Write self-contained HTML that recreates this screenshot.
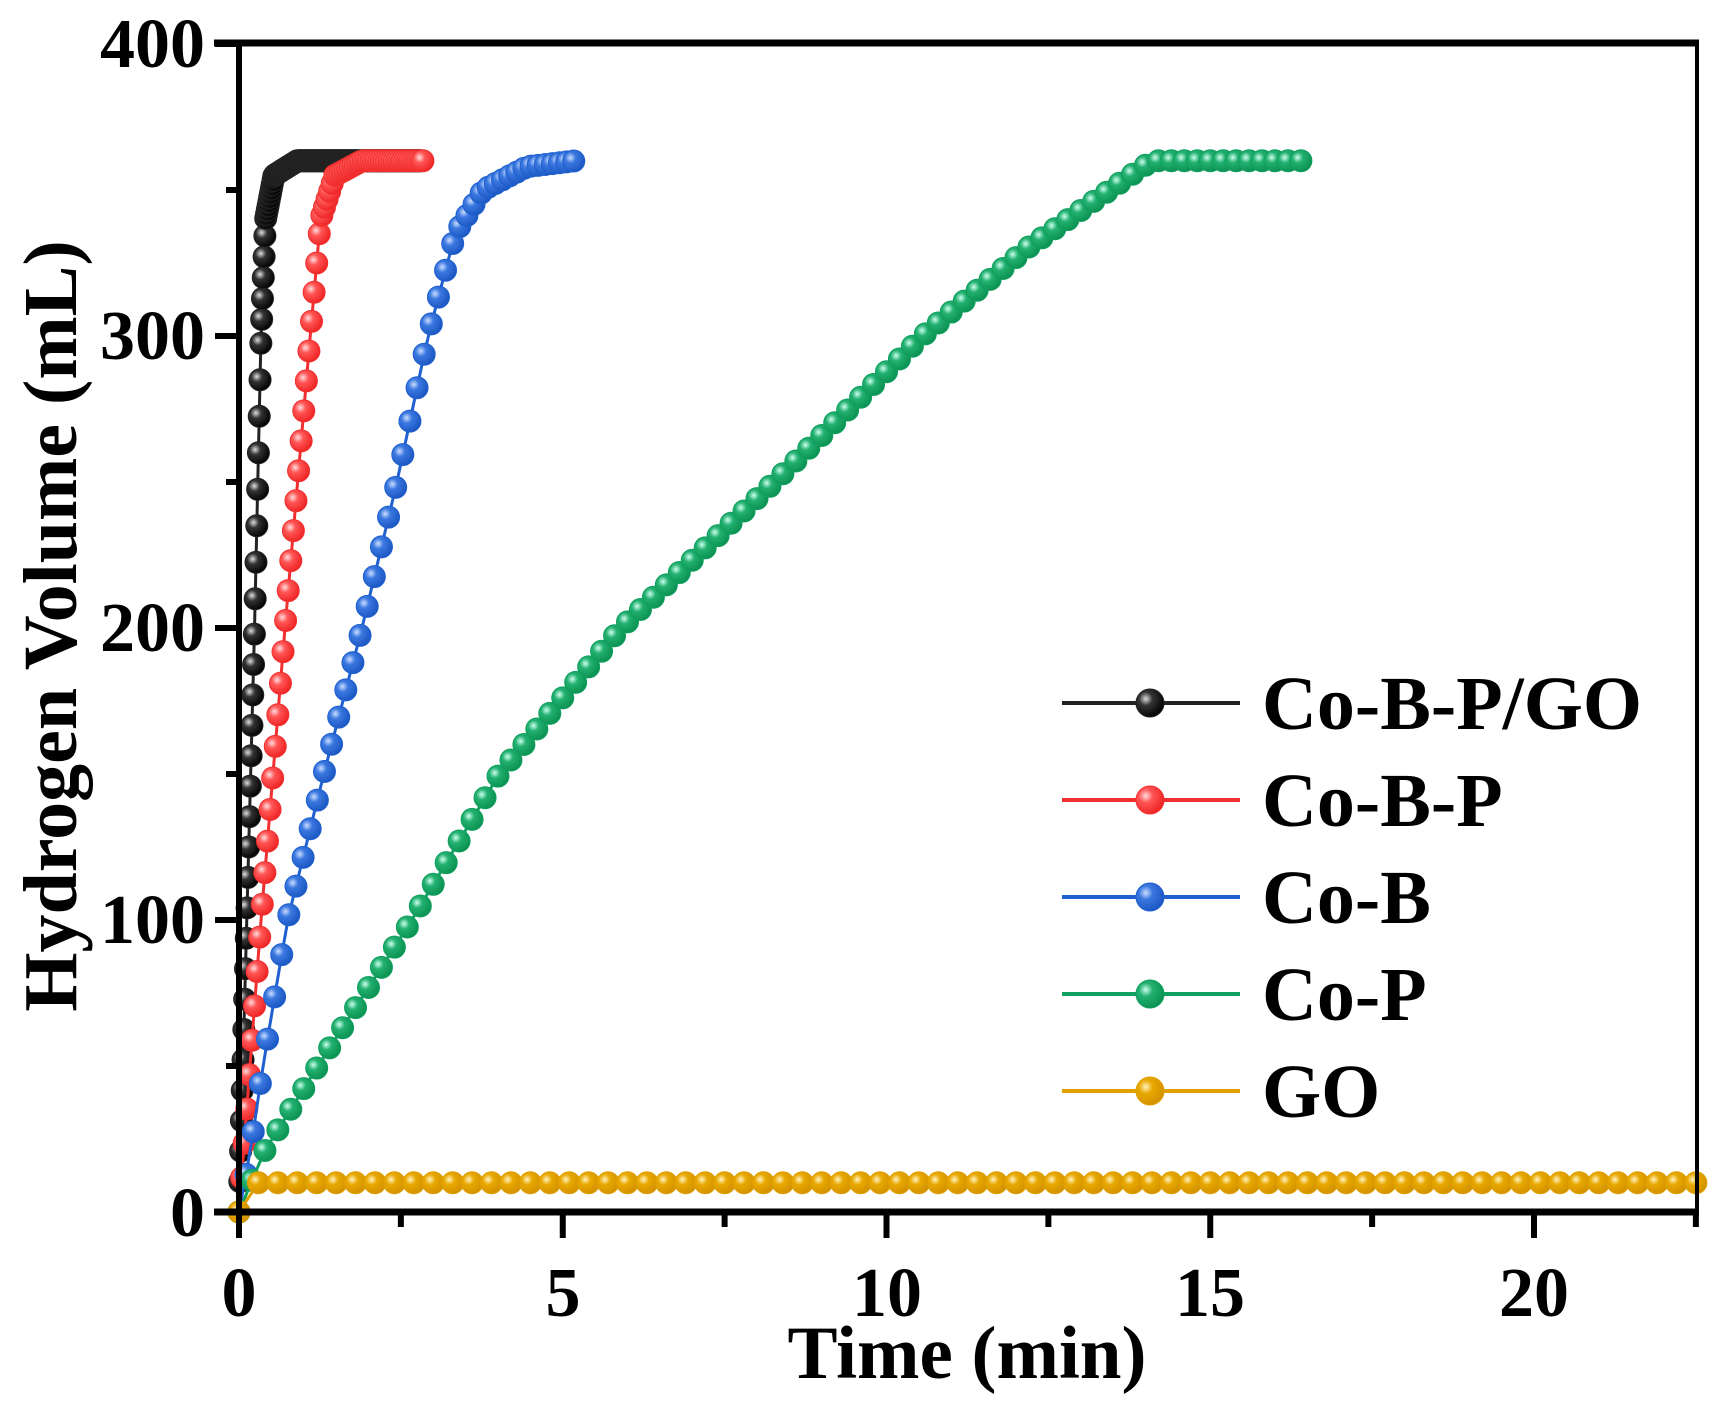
<!DOCTYPE html>
<html><head><meta charset="utf-8"><style>
html,body{margin:0;padding:0;background:#fff;}
svg{display:block;}
text{font-family:"Liberation Serif",serif;font-weight:bold;fill:#000;}
</style></head><body>
<svg id="s" width="1714" height="1402" viewBox="0 0 1714 1402" xmlns="http://www.w3.org/2000/svg">
<defs>
<radialGradient id="gk" cx="0.35" cy="0.35" r="0.7"><stop offset="0" stop-color="#ddd"/><stop offset="0.35" stop-color="#333"/><stop offset="1" stop-color="#000"/></radialGradient>
<radialGradient id="gr" cx="0.35" cy="0.35" r="0.7"><stop offset="0" stop-color="#fdd"/><stop offset="0.35" stop-color="#f55"/><stop offset="1" stop-color="#e22"/></radialGradient>
<radialGradient id="gb" cx="0.35" cy="0.35" r="0.7"><stop offset="0" stop-color="#cdf"/><stop offset="0.35" stop-color="#3a78e0"/><stop offset="1" stop-color="#1a55c0"/></radialGradient>
<radialGradient id="gg" cx="0.35" cy="0.35" r="0.7"><stop offset="0" stop-color="#cfe"/><stop offset="0.35" stop-color="#22b070"/><stop offset="1" stop-color="#0a9050"/></radialGradient>
<radialGradient id="gy" cx="0.35" cy="0.35" r="0.7"><stop offset="0" stop-color="#fff2c0"/><stop offset="0.35" stop-color="#e8a800"/><stop offset="1" stop-color="#d09000"/></radialGradient>
</defs>
<g id="data"></g>
<g stroke="#000" fill="none">
<line x1="214" y1="43" x2="1699" y2="43" stroke-width="7"/>
<line x1="239" y1="40" x2="239" y2="1215" stroke-width="6"/>
<line x1="214" y1="1212" x2="1699" y2="1212" stroke-width="7"/>
<line x1="1697" y1="40" x2="1697" y2="1215" stroke-width="4"/>
<g stroke-width="6" id="ticks"></g>
</g>
<g font-size="70" text-anchor="end">
<text x="205" y="67">400</text>
<text x="205" y="359">300</text>
<text x="205" y="651">200</text>
<text x="205" y="943">100</text>
<text x="205" y="1236">0</text>
</g>
<g font-size="70" text-anchor="middle">
<text x="239" y="1316">0</text>
<text x="563" y="1316">5</text>
<text x="887" y="1316">10</text>
<text x="1210" y="1316">15</text>
<text x="1534" y="1316">20</text>
</g>
<text x="967" y="1378" font-size="75" text-anchor="middle">Time (min)</text>
<text transform="translate(76,626) rotate(-90)" font-size="76" text-anchor="middle">Hydrogen Volume (mL)</text>
<g id="legend"></g>
</svg>
<script>
var NS="http://www.w3.org/2000/svg";
function el(p,n,a){var e=document.createElementNS(NS,n);for(var k in a)e.setAttribute(k,a[k]);p.appendChild(e);return e;}
var X=function(t){return 239+t*64.75;}, Y=function(v){return 1212-v*2.92;};
var tk=document.getElementById('ticks');
for(var v=0;v<=400;v+=50){var L=(v%100==0)?24:13;el(tk,'line',{x1:239-L,y1:Y(v),x2:239,y2:Y(v)});}
for(var t=0;t<=22.5;t+=2.5){var L=(t%5==0)?26:15;el(tk,'line',{x1:X(t),y1:1212,x2:X(t),y2:1212+L});}
function interp(k,t){
  if(t<=k[0][0])return k[0][1];
  for(var i=1;i<k.length;i++){if(t<=k[i][0]){
    var a=k[i-1],b=k[i],u=(t-a[0])/(b[0]-a[0]);
    return a[1]+(b[1]-a[1])*u;}}
  return k[k.length-1][1];
}
var series=[
 {c:'#222',g:'gk',dt:0.0125,end:2.8,k:[[0,0],[0.12,100],[0.24,200],[0.34,300],[0.41,340],[0.54,355],[0.9,360],[2.8,360]]},
 {c:'#f03030',g:'gr',dt:0.04,end:2.84,k:[[0,0],[0.17,50],[0.34,100],[0.71,200],[1.1,300],[1.26,340],[1.48,355],[1.9,360],[2.84,360]]},
 {c:'#2060d0',g:'gb',dt:0.11,end:5.2,k:[[0,0],[0.17,20],[0.37,50],[0.75,100],[1.31,150],[1.9,200],[2.44,250],[2.92,300],[3.34,335],[3.77,350],[4.45,358],[5.2,360]]},
 {c:'#10a060',g:'gg',dt:0.2,end:16.4,k:[[0,0],[0.37,20],[1.22,50],[2.67,100],[4.02,150],[5.9,200],[8.27,250],[10.56,300],[12.17,330],[13.45,350],[14.1,360],[16.4,360]]},
 {c:'#e0a000',g:'gy',dt:0.3,end:22.5,k:[[0,0],[0.3,10],[22.5,10]]}
];
var d=document.getElementById('data');
series.forEach(function(s){
  var pts=[];for(var t=0;t<=s.end+1e-6;t+=s.dt)pts.push([X(t),Y(interp(s.k,t))]);
  el(d,'polyline',{points:pts.map(function(p){return p.join(',')}).join(' '),fill:'none',stroke:s.c,'stroke-width':3});
  pts.forEach(function(p){el(d,'circle',{cx:p[0],cy:p[1],r:11,fill:'url(#'+s.g+')',stroke:s.c,'stroke-width':1});});
});
var lg=document.getElementById('legend');
var names=['Co-B-P/GO','Co-B-P','Co-B','Co-P','GO'];
series.forEach(function(s,i){
  var y=703+i*97;
  el(lg,'line',{x1:1062,y1:y,x2:1240,y2:y,stroke:s.c,'stroke-width':4});
  el(lg,'circle',{cx:1150,cy:y,r:14,fill:'url(#'+s.g+')',stroke:s.c,'stroke-width':1});
  var tx=el(lg,'text',{x:1262,y:y+26,'font-size':76});tx.textContent=names[i];
});
</script>
</body></html>
